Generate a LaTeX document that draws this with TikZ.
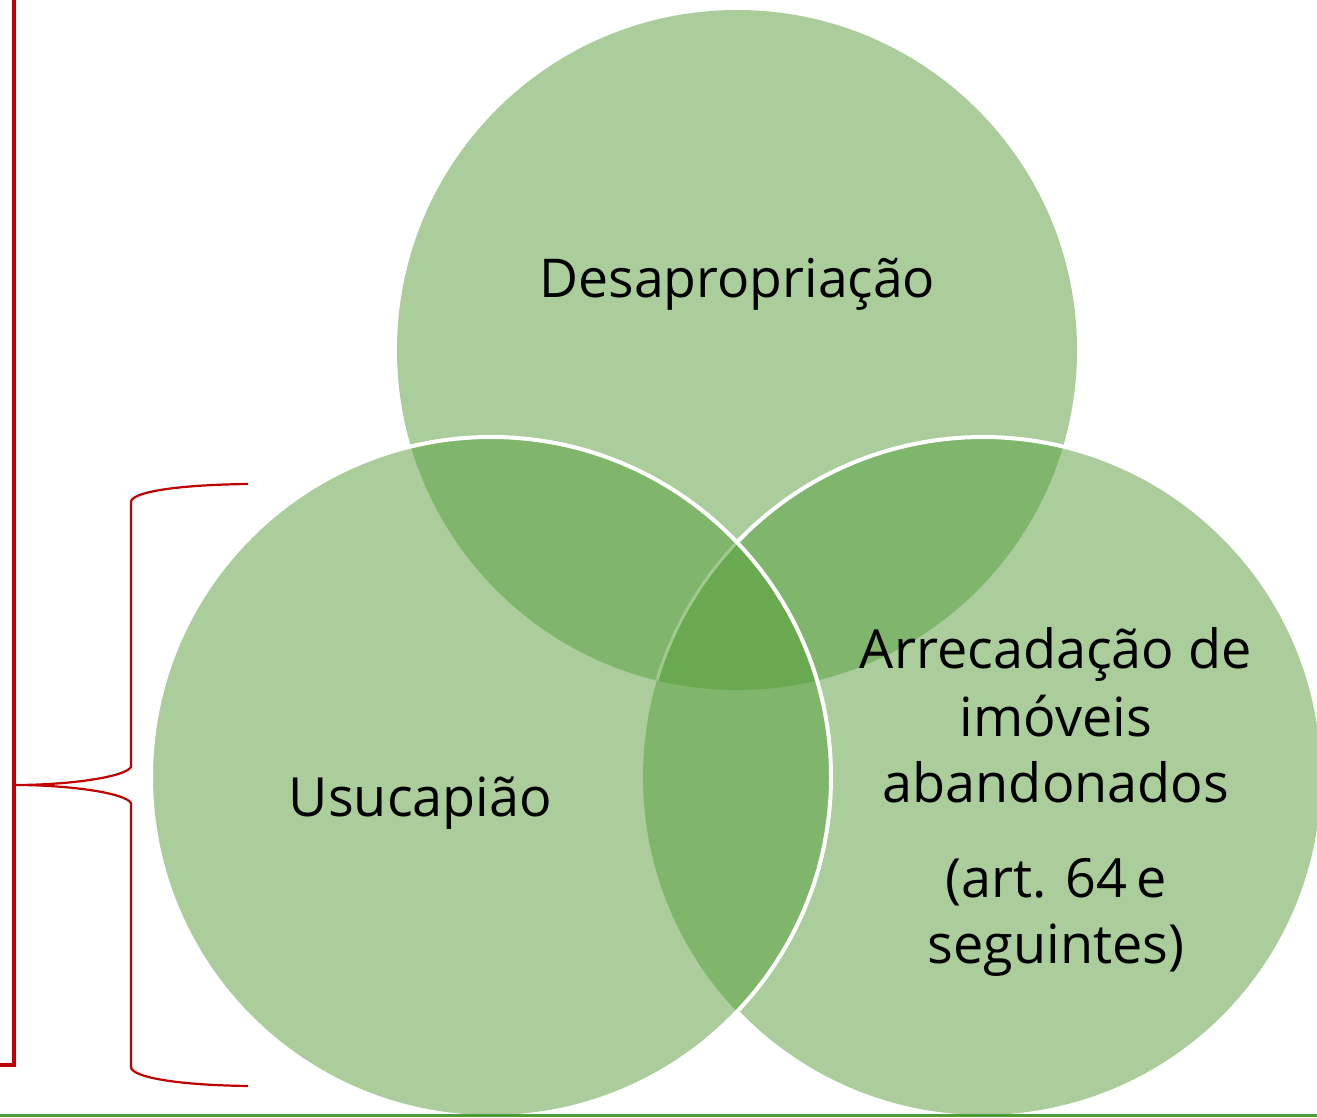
\documentclass[tikz,border=0pt]{standalone}
\usepackage{fontspec}
\setmainfont{Open Sans}
\definecolor{vlight}{HTML}{AACD9B}
\definecolor{vmed}{HTML}{80B66C}
\definecolor{vdark}{HTML}{69A94F}
\definecolor{vfaint}{HTML}{A0C98F}
\definecolor{bred}{HTML}{C00000}
\definecolor{bgreen}{HTML}{509B37}
\begin{document}
\begin{tikzpicture}[x=1pt,y=1pt,
  lbl/.style={anchor=base,inner sep=0pt,text=black,font=\fontsize{54}{54}\selectfont},
  border/.style={draw=white,line width=4pt},
  redbar/.style={draw=bred,line width=4pt,miter limit=10},
  bracestyle/.style={draw=bred,line width=2.2pt}]
\useasboundingbox (0,0) rectangle (1317,1117);
% circle centres
\coordinate (T) at (737,767);
\coordinate (L) at (491,340);
\coordinate (R) at (983,340);
\def\rr{340}
% base fills
\fill[vlight] (T) circle (\rr);
\fill[vlight] (L) circle (\rr);
\fill[vlight] (R) circle (\rr);
% pairwise overlaps
\begin{scope}\clip (T) circle (\rr); \fill[vmed] (L) circle (\rr); \fill[vmed] (R) circle (\rr);\end{scope}
\begin{scope}\clip (L) circle (\rr); \fill[vmed] (R) circle (\rr);\end{scope}
% triple
\begin{scope}\clip (T) circle (\rr); \clip (L) circle (\rr); \fill[vdark] (R) circle (\rr);\end{scope}
% faint arc of right circle in triple region
\begin{scope}\clip (T) circle (\rr); \clip (L) circle (\rr); \draw[vfaint,line width=3pt] (R) circle (\rr);\end{scope}
% white borders
\draw[border] (R) ++(136.35:\rr) arc[start angle=136.35,end angle=-136.35,radius=\rr];
\draw[border] (L) circle (\rr);
% labels
\node[lbl,font=\fontsize{53.5}{54}\selectfont] (desap) at (737.5,819.7) {Desapropriação};
\node[lbl] (usuc) at (420.5,300) {Usucapião};
\node[lbl] (arr1) at (1056,448) {Arrecadação de};
\node[lbl] (arr2) at (1056,380) {imóveis};
\node[lbl] (arr3) at (1056,314) {abandonados};
\node[lbl] (arr4) at (1056,219) {(art. 64\hspace{0.18em}e};
\node[lbl] (arr5) at (1056,154) {seguintes)};
% red bar
\coordinate (bartop) at (13.5,1117);
\coordinate (barbot) at (13.5,52.3);
\coordinate (barfoot) at (0,52.3);
\draw[redbar] (bartop) -- (barbot) -- (barfoot);
% brace
\coordinate (tip) at (15,332);
\coordinate (bu1) at (131,350);
\coordinate (bu2) at (131,615);
\coordinate (bu3) at (248,633);
\coordinate (bl1) at (131,314);
\coordinate (bl2) at (131,50);
\coordinate (bl3) at (248,31);
\draw[bracestyle] (bu3) .. controls (170,632) and (131,624) .. (bu2) -- (bu1)
   .. controls (125,340) and (70,332) .. (tip)
   .. controls (70,332) and (125,324) .. (bl1) -- (bl2)
   .. controls (131,41) and (170,32) .. (bl3);
% green baseline
\fill[bgreen] (0,0) rectangle (1317,3.5);
\end{tikzpicture}
\end{document}
